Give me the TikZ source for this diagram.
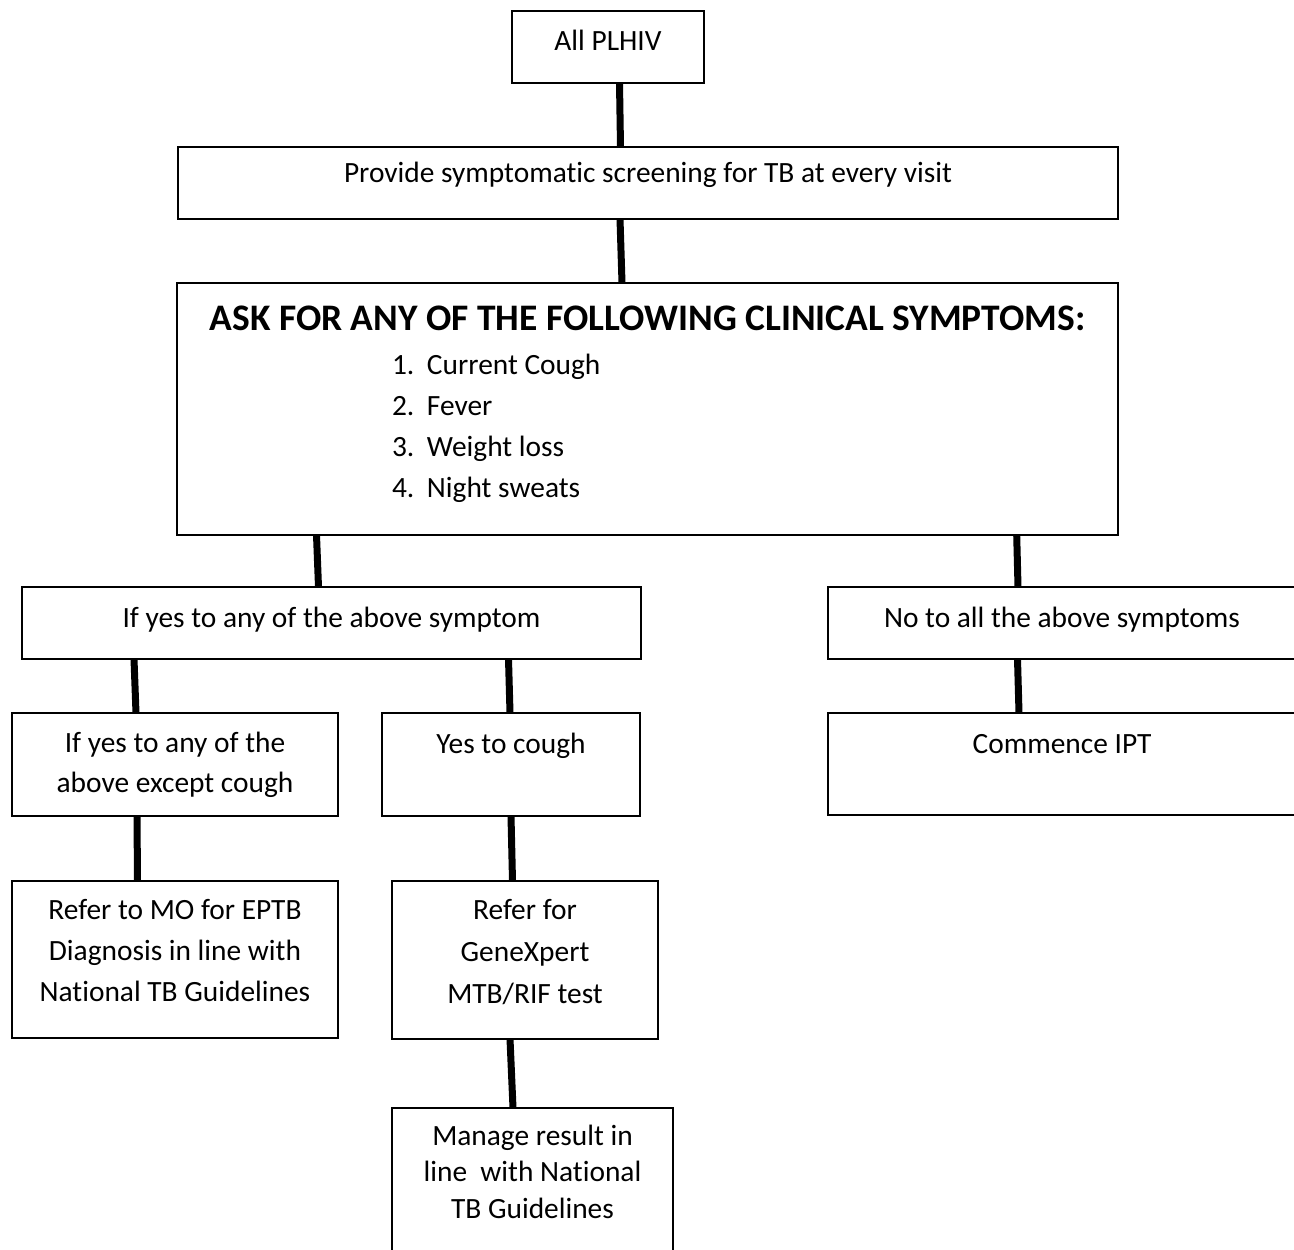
\documentclass[tikz,border=0pt]{standalone}
\usepackage{fontspec}
\setmainfont{Carlito}[Ligatures=NoCommon]
% multi-line centred text whose baseline is that of its first line
\newcommand{\mlines}[1]{\begin{tabular}[t]{@{}c@{}}#1\end{tabular}}
\begin{document}
\begin{tikzpicture}[x=0.75pt,y=-0.75pt,
  box/.style={draw=black, line width=1.5pt, rectangle, inner sep=0pt, outer sep=0pt},
  link/.style={draw=black, line width=5.25pt, line cap=butt},
  txt/.style={anchor=base, inner sep=0pt, outer sep=0pt, font=\fontsize{22.05}{30.75}\selectfont},
]
\useasboundingbox (0,0) rectangle (1294,1249);
\fill[white] (0,0) rectangle (1294,1249);
\clip (0,0) rectangle (1294,1249);

% boxes
\node[box, minimum width=144pt,    minimum height=54pt]    (A) at (608,47)      {};
\node[box, minimum width=705pt,    minimum height=54pt]    (B) at (648,183)     {};
\node[box, minimum width=705.75pt, minimum height=189pt]   (C) at (647.5,409)   {};
\node[box, minimum width=464.25pt, minimum height=54pt]    (D) at (331.5,623)   {};
\node[box, minimum width=351pt,    minimum height=54pt]    (J) at (1062,623)    {};
\node[box, minimum width=244.5pt,  minimum height=77.25pt] (E) at (175,764.5)   {};
\node[box, minimum width=193.5pt,  minimum height=77.25pt] (F) at (511,764.5)   {};
\node[box, minimum width=351pt,    minimum height=76.5pt]  (K) at (1062,764)    {};
\node[box, minimum width=244.5pt,  minimum height=117.75pt](G) at (175,959.5)   {};
\node[box, minimum width=199.5pt,  minimum height=118.5pt] (H) at (525,960)     {};
\node[box, minimum width=210.75pt, minimum height=118.5pt] (I) at (532.5,1187)  {};

% connectors
\draw[link] (A.south -| 619.5,0) -- (B.north -| 620.5,0);
\draw[link] (B.south -| 620,0)   -- (C.north -| 622,0);
\draw[link] (C.south -| 316.5,0) -- (D.north -| 318.5,0);
\draw[link] (C.south -| 1016.7,0)-- (J.north -| 1018,0);
\draw[link] (D.south -| 134,0)   -- (E.north -| 136,0);
\draw[link] (E.south -| 137,0)   -- (G.north -| 137.5,0);
\draw[link] (D.south -| 508.5,0) -- (F.north -| 510,0);
\draw[link] (F.south -| 511,0)   -- (H.north -| 512.5,0);
\draw[link] (H.south -| 510,0)   -- (I.north -| 513,0);
\draw[link] (J.south -| 1017.5,0)-- (K.north -| 1019,0);

% texts
\node[txt] (At) at (608,50)  {All PLHIV};
\node[txt] (Bt) at (648,182) {Provide symptomatic screening for TB at every visit};
\node[txt, font=\bfseries\fontsize{28.1}{34}\selectfont] (Ct) at (647.5,330)
  {ASK FOR ANY OF THE FOLLOWING CLINICAL SYMPTOMS:};
\node[txt, anchor=base west] (Cl) at (392,374)
  {\begin{tabular}[t]{@{}l@{}}
    \makebox[26.25pt][l]{1.}Current Cough\\
    \makebox[26.25pt][l]{2.}Fever\\
    \makebox[26.25pt][l]{3.}Weight loss\\
    \makebox[26.25pt][l]{4.}Night sweats
   \end{tabular}};
\node[txt] (Dt) at (331.5,627) {If yes to any of the above symptom};
\node[txt] (Jt) at (1062,627)  {No to all the above symptoms};
\node[txt, font=\fontsize{22.05}{30}\selectfont] (Et) at (175,752)
  {\mlines{If yes to any of the\\above except cough}};
\node[txt] (Ft) at (511,753)  {Yes to cough};
\node[txt] (Kt) at (1062,753) {Commence IPT};
\node[txt, font=\fontsize{22.05}{31.1}\selectfont] (Gt) at (175,919)
  {\mlines{Refer to MO for EPTB\\Diagnosis in line with\\National TB Guidelines}};
\node[txt, font=\fontsize{22.05}{31.5}\selectfont] (Ht) at (525,919)
  {\mlines{Refer for\\GeneXpert\\MTB/RIF test}};
\node[txt, font=\fontsize{22.05}{27.4}\selectfont] (It) at (532.5,1145)
  {\mlines{Manage result in\\line\ \ with National\\TB Guidelines}};
\end{tikzpicture}
\end{document}
